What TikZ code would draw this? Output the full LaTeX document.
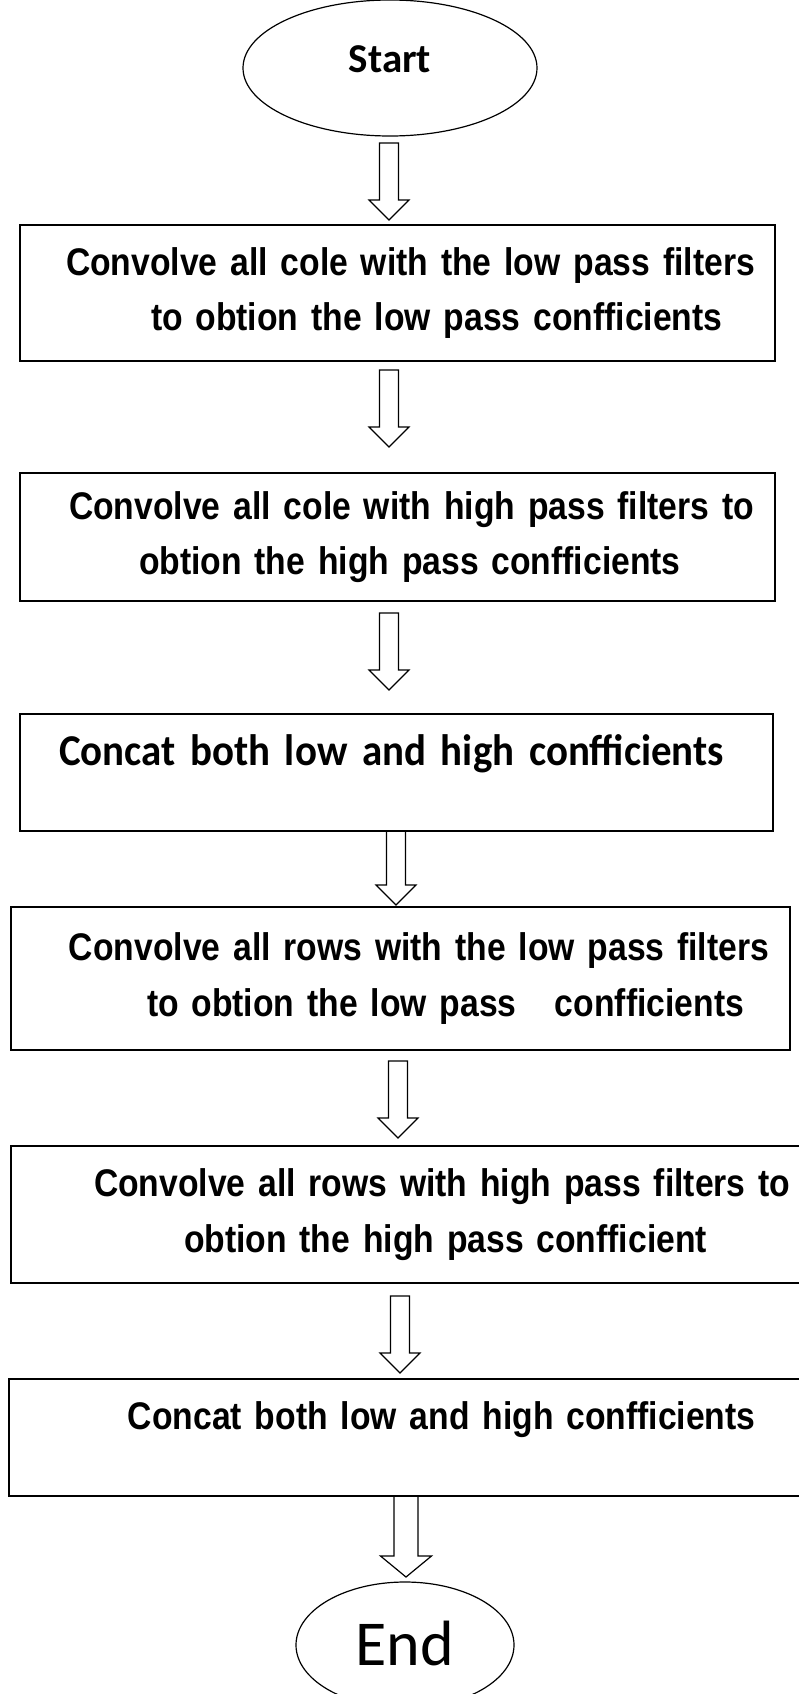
\documentclass[tikz,border=0pt]{standalone}
\usepackage{fontspec}
\setmainfont{Liberation Sans}
\newfontfamily\calibrifont{Carlito}
\newfontfamily\concatfont[FakeStretch=0.93]{Carlito}
\newfontfamily\narrowfont[FakeStretch=0.875]{Liberation Sans}
\usepackage{tikz}
\usetikzlibrary{positioning, calc, shapes.geometric}

\newcommand{\boxfont}{\narrowfont\bfseries\fontsize{38.5pt}{55.5pt}\selectfont}

\begin{document}
\begin{tikzpicture}[
  x=1pt, y=-1pt,
  block/.style={draw, rectangle, line width=1.6pt, inner sep=0pt, outer sep=0pt, align=left, font=\boxfont},
  startend/.style={draw, ellipse, line width=1.2pt, inner sep=0pt, outer sep=0pt},
  shafthalf/.store in=\shafthalf, shafthalf=9.5pt,
  headhalf/.store in=\headhalf, headhalf=20pt,
  headlen/.store in=\headlen, headlen=20pt,
  hollowarrow/.style={line width=1.2pt, line join=miter, to path={let \p1=(\tikztostart), \p2=(\tikztotarget) in
    (\x1-\shafthalf,\y1) -- (\x1+\shafthalf,\y1) -- (\x1+\shafthalf,\y2+\headlen) -- (\x1+\headhalf,\y2+\headlen)
    -- (\x1,\y2) -- (\x1-\headhalf,\y2+\headlen) -- (\x1-\shafthalf,\y2+\headlen) -- cycle}}
]

\useasboundingbox (0,0) rectangle (798,1694);

\node[startend, minimum width=294pt, minimum height=136pt, font=\calibrifont\bfseries\fontsize{41pt}{41pt}\selectfont, text height=26pt, text depth=16pt] (start) at (390,68) {Start};

\node[block, text width=755pt, minimum height=136pt, below=89pt of start, xshift=7.5pt] (low_cols) {\hspace*{46pt}Convolve all cole with the low pass filters\\\hspace*{131pt}to obtion the low pass confficients};
\node[block, text width=755pt, minimum height=128pt, below=112pt of low_cols] (high_cols) {\hspace*{49pt}Convolve all cole with high pass filters to\\\hspace*{119pt}obtion the high pass confficients};
\node[block, text width=753pt, minimum height=117pt, below=113pt of high_cols, xshift=-1pt, font=\concatfont\bfseries\fontsize{44pt}{50pt}\selectfont, text height=30pt, text depth=45pt] (concat_cols) {\hspace*{39pt}Concat both low and high confficients};

\draw[hollowarrow] ([xshift=-1pt,yshift=-7pt]start.south) to ([yshift=5pt]low_cols.north);
\draw[hollowarrow] ([xshift=-8.5pt,yshift=-9pt]low_cols.south) to ([yshift=26pt]high_cols.north);
\draw[hollowarrow] ([xshift=-8.5pt,yshift=-12pt]high_cols.south) to ([yshift=24pt]concat_cols.north);

\node[block, text width=779pt, minimum height=143pt, below=76pt of concat_cols, xshift=4pt] (low_rows) {\hspace*{58pt}Convolve all rows with the low pass filters\\\hspace*{136pt}to obtion the low pass\ \ \ confficients};
\node[block, text width=804pt, minimum height=137pt, below=96pt of low_rows, xshift=12.5pt] (high_rows) {\hspace*{83pt}Convolve all rows with high pass filters to\\\hspace*{173pt}obtion the high pass confficient};
\node[block, text width=806pt, minimum height=117pt, below=96pt of high_rows, xshift=-1pt, text height=28pt, text depth=45pt] (concat_rows) {\hspace*{119pt}Concat both low and high confficients};

\node[startend, minimum width=218pt, minimum height=126pt, below=86pt of concat_rows, xshift=-7pt, font=\calibrifont\fontsize{64pt}{64pt}\selectfont, text height=40pt, text depth=0pt] (finish) {End};

\draw[hollowarrow] ([xshift=-0.5pt]concat_cols.south) to ([yshift=2pt]low_rows.north);
\draw[hollowarrow] ([xshift=-2.5pt,yshift=-11pt]low_rows.south) to ([yshift=8pt]high_rows.north);
\draw[hollowarrow] ([xshift=-13pt,yshift=-13pt]high_rows.south) to ([yshift=6pt]concat_rows.north);
\draw[hollowarrow, shafthalf=12pt, headhalf=25.5pt, headlen=21pt] ([xshift=-6pt]concat_rows.south) to ([yshift=5pt]finish.north);

\end{tikzpicture}
\end{document}
